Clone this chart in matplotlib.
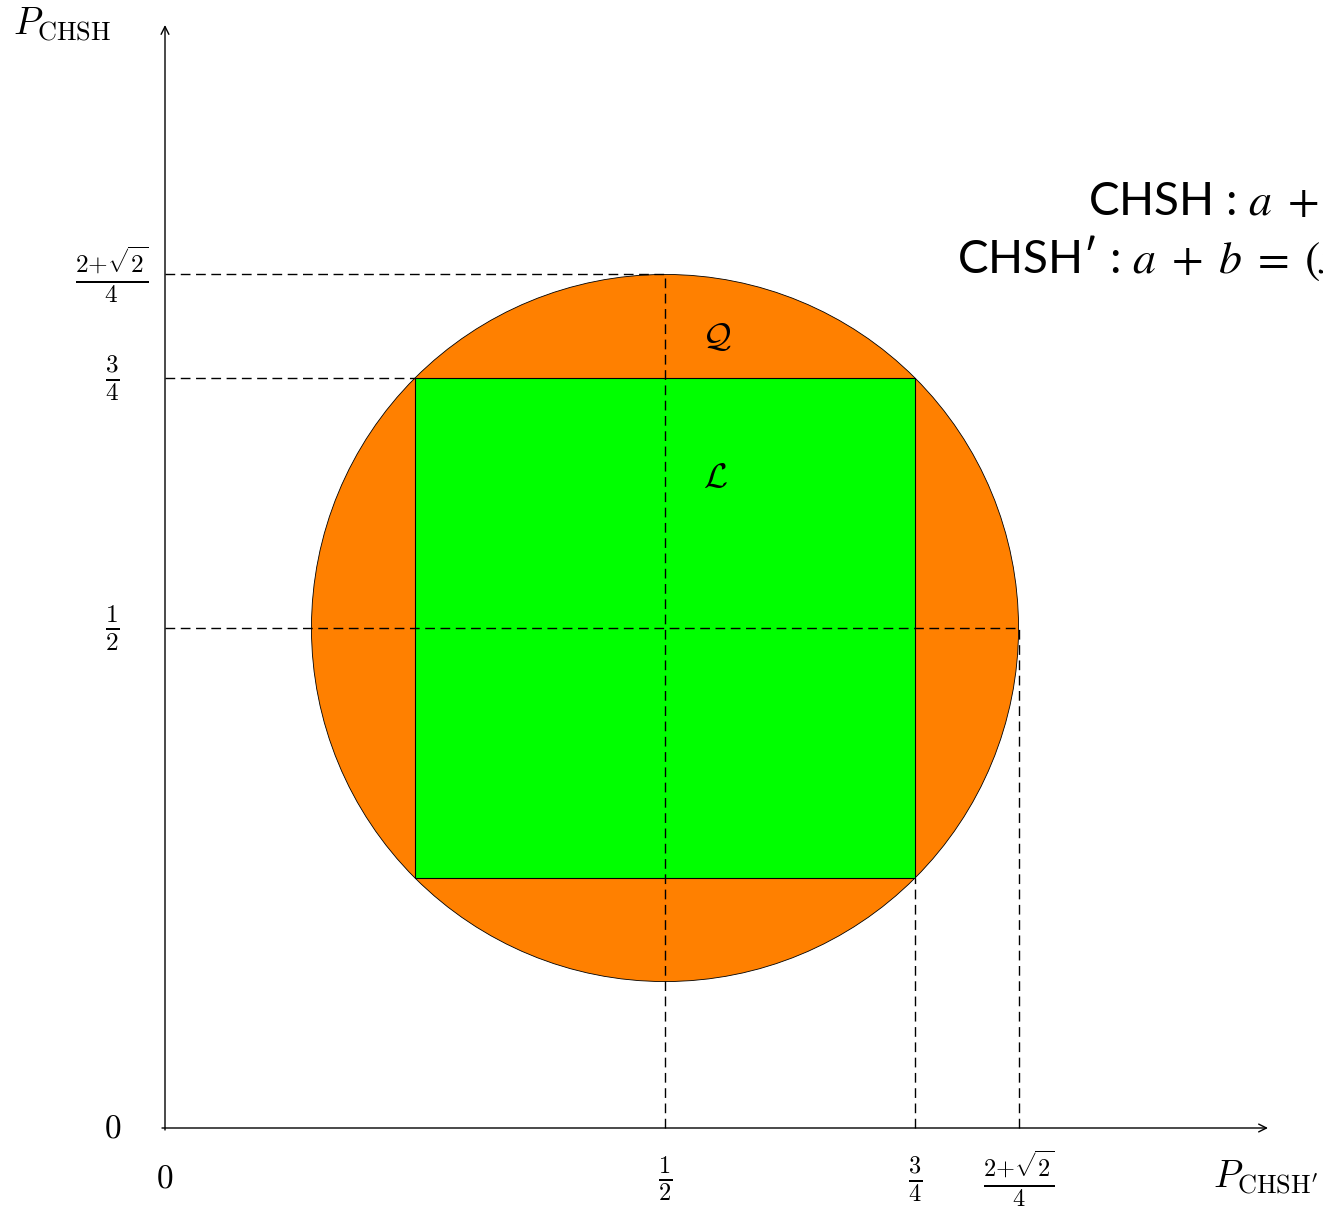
import numpy as np
import matplotlib.pyplot as plt
from matplotlib.patches import Circle, Rectangle

plt.rcParams['mathtext.fontset'] = 'cm'

# quantum set: disc centred at (1/2, 1/2), local set: square [1/4, 3/4]^2
center = (0.5, 0.5)
radius = np.sqrt(2) / 4
square_lo, square_hi = 0.25, 0.75
tsirelson = (2 + np.sqrt(2)) / 4

tick_vals = [0.5, 0.75, tsirelson]
tick_labels = [r'$\frac{1}{2}$', r'$\frac{3}{4}$', r'$\frac{2{+}\sqrt{2}}{4}$']

fig = plt.figure(figsize=(13.23, 12.07), dpi=100)
ax = fig.add_axes([0, 0, 1, 1])
ax.set_xlim(-0.165, 1.158)
ax.set_ylim(-0.079, 1.128)
ax.axis('off')

ax.add_patch(Circle(center, radius, facecolor='#FF8000', edgecolor='black', lw=0.6, zorder=1))
ax.add_patch(Rectangle((square_lo, square_lo), square_hi - square_lo, square_hi - square_lo,
                       facecolor='#00FF00', edgecolor='black', lw=0.8, zorder=2))

dash = dict(color='black', lw=1.0, dashes=(7, 4), zorder=3)
# horizontal guides
ax.plot([0, center[0]], [tsirelson, tsirelson], **dash)
ax.plot([0, square_lo], [square_hi, square_hi], **dash)
ax.plot([0, tsirelson], [0.5, 0.5], **dash)
# vertical guides
ax.plot([0.5, 0.5], [0, tsirelson], **dash)
ax.plot([square_hi, square_hi], [0, square_lo], **dash)
ax.plot([tsirelson, tsirelson], [0, 0.5], **dash)

# axes with arrows
arrow = dict(arrowstyle='->', lw=1.0, color='black', mutation_scale=14, shrinkA=0, shrinkB=0)
ax.annotate('', xy=(1.103, 0), xytext=(-0.003, 0), arrowprops=arrow, zorder=4)
ax.annotate('', xy=(0, 1.103), xytext=(0, -0.002), arrowprops=arrow, zorder=4)

ax.text(-0.052, 0, '$0$', fontsize=24, ha='center', va='center')
ax.text(0, -0.05, '$0$', fontsize=24, ha='center', va='center')
for v, lab in zip(tick_vals, tick_labels):
    ax.text(v, -0.051, lab, fontsize=25, ha='center', va='center')
    ax.text(-0.053, v, lab, fontsize=26, ha='center', va='center')

ax.text(-0.103, 1.103, r'$P_{\mathrm{CHSH}}$', fontsize=27, ha='center', va='center')
ax.text(1.1, -0.05, r"$P_{\mathrm{CHSH'}}$", fontsize=27, ha='center', va='center')

ax.text(0.552, 0.791, r'$\mathcal{Q}$', fontsize=25, ha='center', va='center')
ax.text(0.55, 0.651, r'$\mathcal{L}$', fontsize=25, ha='center', va='center')

# game definitions
ax.text(0.923, 0.913, r'CHSH : $a\;+\;b\;=\;xy$', fontsize=33, family=['Lato', 'DejaVu Sans'],
        math_fontfamily='stix', ha='left', va='baseline')
ax.text(0.792, 0.855, 'CHSH\u2032 : ' + r'$a\;+\;b\;=\;(x \oplus 1)y$', fontsize=33,
        family=['Lato', 'DejaVu Sans'], math_fontfamily='stix', ha='left', va='baseline')

fig.savefig('out.png', dpi=100)
